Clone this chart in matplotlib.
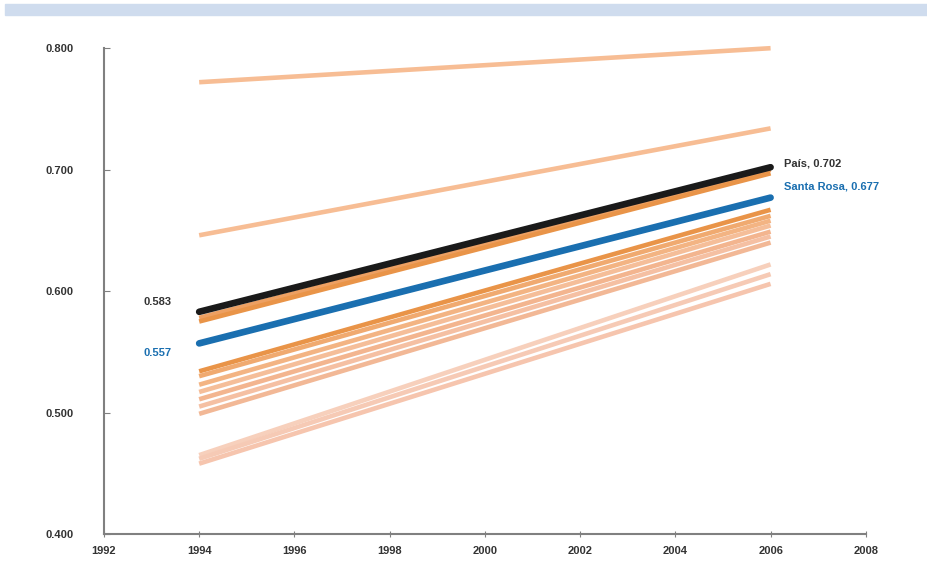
import matplotlib.pyplot as plt
from matplotlib.patches import Rectangle

plt.rcParams['font.family'] = ['Liberation Sans', 'DejaVu Sans']

anios = [1994, 2006]

# otras provincias / cantones (naranja), valor 1994 y 2006
otros_1994 = [0.772, 0.646, 0.578, 0.575, 0.534, 0.530, 0.523, 0.517,
              0.511, 0.505, 0.499, 0.465, 0.462, 0.458]
otros_2006 = [0.800, 0.734, 0.700, 0.697, 0.667, 0.662, 0.658, 0.654,
              0.649, 0.645, 0.640, 0.622, 0.614, 0.606]
otros_color = ['#f7bd94', '#f7bd94', '#eda062', '#e99448', '#e99448', '#f0aa70',
               '#f3b483', '#f5be99', '#f3b58f', '#f5c0a3', '#f2b896', '#f7d0bc',
               '#f6cab5', '#f6c5ae']

pais = [0.583, 0.702]
santa_rosa = [0.557, 0.677]

fig = plt.figure(figsize=(9.28, 5.67), dpi=100)
fig.patches.append(Rectangle((0.005, 0.973), 0.995, 0.02, transform=fig.transFigure,
                             color='#cfdcee', zorder=0))
ax = fig.add_axes([0.112, 0.058, 0.821, 0.857])

for y0, y1, c in zip(otros_1994, otros_2006, otros_color):
    ax.plot(anios, [y0, y1], color=c, linewidth=3.3, solid_capstyle='butt', clip_on=False)

ax.plot(anios, pais, color='#1a1a1a', linewidth=4.8, solid_capstyle='round', zorder=5)
ax.plot(anios, santa_rosa, color='#1a6fb0', linewidth=4.8, solid_capstyle='round', zorder=5)

ax.annotate(f'{pais[0]:.3f}', (anios[0], pais[0]), xytext=(-30, 7), textcoords='offset points',
            ha='center', va='center', fontsize=8, fontweight='bold', color='#333333')
ax.annotate(f'{santa_rosa[0]:.3f}', (anios[0], santa_rosa[0]), xytext=(-30, -7),
            textcoords='offset points', ha='center', va='center', fontsize=8,
            fontweight='bold', color='#1a6fb0')
ax.annotate(f'País, {pais[1]:.3f}', (anios[1], pais[1]), xytext=(10, 3), textcoords='offset points',
            ha='left', va='center', fontsize=8, fontweight='bold', color='#333333')
ax.annotate(f'Santa Rosa, {santa_rosa[1]:.3f}', (anios[1], santa_rosa[1]), xytext=(10, 8),
            textcoords='offset points', ha='left', va='center', fontsize=8,
            fontweight='bold', color='#1a6fb0')

ax.set_xlim(1992, 2008)
ax.set_ylim(0.4, 0.8)
ax.set_xticks(range(1992, 2009, 2))
ax.set_yticks([0.4, 0.5, 0.6, 0.7, 0.8])
ax.set_yticklabels([f'{v:.3f}' for v in [0.4, 0.5, 0.6, 0.7, 0.8]])
for s in ['top', 'right']:
    ax.spines[s].set_visible(False)
for s in ['left', 'bottom']:
    ax.spines[s].set_color('#808080')
    ax.spines[s].set_linewidth(1.5)
ax.tick_params(axis='y', direction='in', length=4, color='#808080', labelsize=8, pad=22)
ax.tick_params(axis='x', direction='inout', length=5, color='#808080', labelsize=8, pad=6)
for lab in ax.get_xticklabels() + ax.get_yticklabels():
    lab.set_fontweight('bold')
    lab.set_color('#333333')

fig.savefig('out.png', dpi=100)
